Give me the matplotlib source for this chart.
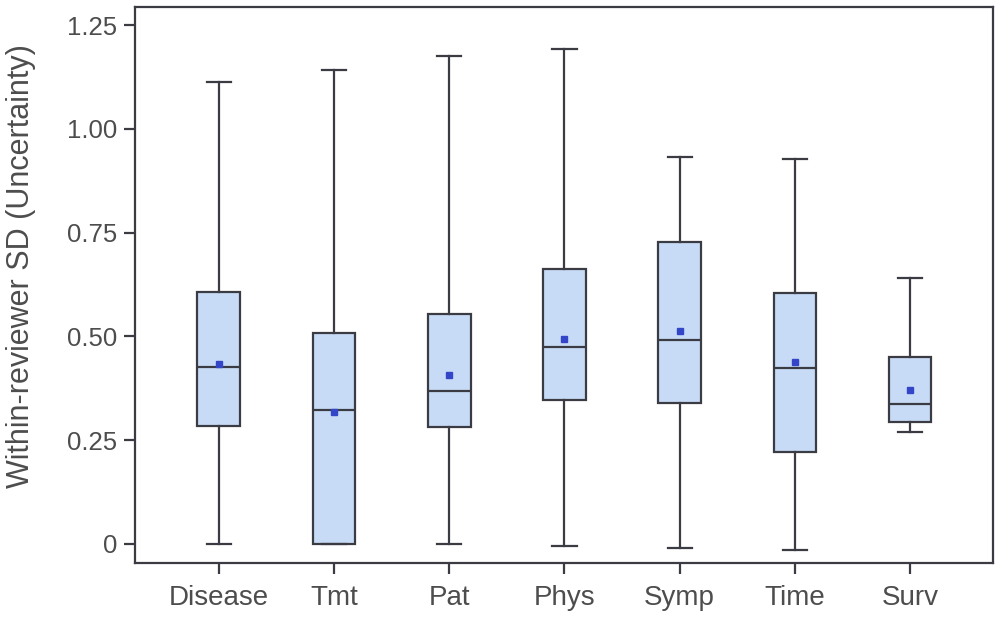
import matplotlib
matplotlib.use("Agg")
import matplotlib.pyplot as plt
import numpy as np

categories = ["Disease", "Tmt", "Pat", "Phys", "Symp", "Time", "Surv"]
whisker_low = [0.0, 0.0, 0.0, -0.005, -0.010, -0.014, 0.270]
q1 = [0.284, 0.0, 0.282, 0.347, 0.340, 0.222, 0.294]
median = [0.427, 0.323, 0.369, 0.475, 0.492, 0.424, 0.337]
q3 = [0.607, 0.508, 0.554, 0.663, 0.728, 0.605, 0.451]
whisker_high = [1.113, 1.142, 1.176, 1.193, 0.933, 0.928, 0.641]
means = [0.434, 0.318, 0.407, 0.494, 0.513, 0.439, 0.371]
yticks = [0, 0.25, 0.50, 0.75, 1.00, 1.25]
ytick_labels = ["0", "0.25", "0.50", "0.75", "1.00", "1.25"]

EDGE = "#3b3b44"
FILL = "#c8dbf6"
TEXT = "#4d4d4d"

plt.rcParams["font.family"] = ["Liberation Sans", "DejaVu Sans"]

stats = []
for i, name in enumerate(categories):
    stats.append({
        "label": name,
        "whislo": whisker_low[i],
        "q1": q1[i],
        "med": median[i],
        "q3": q3[i],
        "whishi": whisker_high[i],
        "mean": means[i],
        "fliers": [],
    })

fig = plt.figure(figsize=(9.98, 6.24), dpi=100)
ax = fig.add_axes([0.1353, 0.0978, 0.8597, 0.8912])

positions = np.arange(1, len(categories) + 1)
ax.bxp(
    stats,
    positions=positions,
    widths=0.37,
    patch_artist=True,
    showmeans=True,
    showfliers=False,
    boxprops=dict(facecolor=FILL, edgecolor=EDGE, linewidth=1.6),
    medianprops=dict(color=EDGE, linewidth=1.6),
    whiskerprops=dict(color=EDGE, linewidth=1.6),
    capprops=dict(color=EDGE, linewidth=1.6),
    capwidths=0.21,
    meanprops=dict(marker="s", markersize=4, markerfacecolor="#3346c8",
                   markeredgecolor="#3346c8"),
)

ax.set_xlim(0.273, 7.72)
ax.set_ylim(-0.0458, 1.294)
ax.set_yticks(yticks)
ax.set_yticklabels(ytick_labels)
ax.set_xticks(positions)
ax.set_xticklabels(categories)

for sp in ax.spines.values():
    sp.set_color(EDGE)
    sp.set_linewidth(1.6)

ax.tick_params(axis="y", direction="out", length=8, width=1.6, color=EDGE,
               labelsize=18.5, labelcolor=TEXT, pad=5)
ax.tick_params(axis="x", direction="out", length=8, width=1.6, color=EDGE,
               labelsize=20, labelcolor=TEXT, pad=8)
ax.set_ylabel("Within-reviewer SD (Uncertainty)", fontsize=22, color=TEXT)
ax.yaxis.set_label_coords(-0.115, 0.534)

fig.savefig("out.png", dpi=100)
